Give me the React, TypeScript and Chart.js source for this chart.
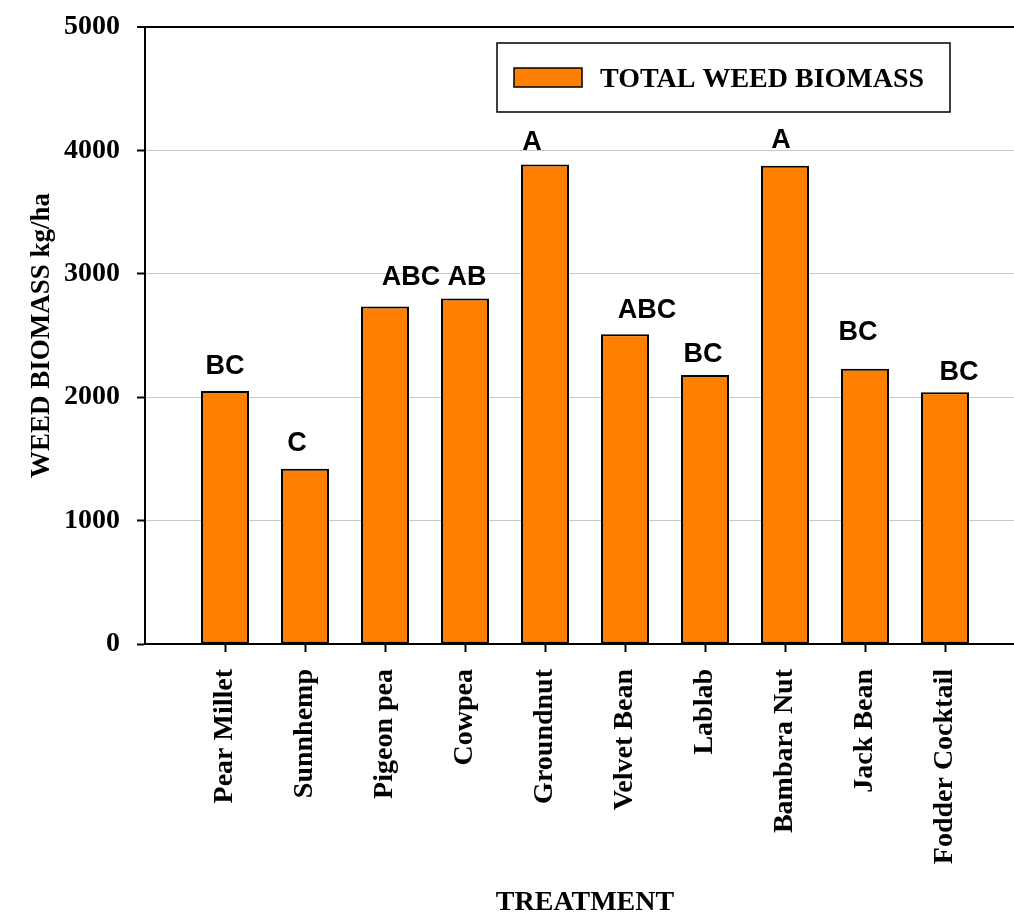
import React, { useEffect, useRef } from "react";
import { Chart, registerables } from "chart.js";

Chart.register(...registerables);

// Treatments along the x axis
const categories = [
  "Pear Millet",
  "Sunnhemp",
  "Pigeon pea",
  "Cowpea",
  "Groundnut",
  "Velvet Bean",
  "Lablab",
  "Bambara Nut",
  "Jack Bean",
  "Fodder Cocktail",
];

// Total weed biomass (kg/ha)
const biomass = [2050, 1420, 2735, 2800, 3885, 2510, 2180, 3875, 2230, 2040];

// Mean separation letters written over each bar
const groupLetters = ["BC", "C", "ABC", "AB", "A", "ABC", "BC", "A", "BC", "BC"];

// Y axis ticks
const yTicks = [0, 1000, 2000, 3000, 4000, 5000];

// Letter placement relative to each bar top: [dx, gap above bar]
const letterOffsets: [number, number][] = [
  [0, 17],
  [-8, 18],
  [26, 22],
  [2, 13],
  [-13, 15],
  [22, 16],
  [-2, 13],
  [-4, 18],
  [-7, 29],
  [14, 12],
];

const ORANGE = "#FF8000";
const SERIF = "'Liberation Serif', 'Times New Roman', serif";
const SANS = "'Liberation Sans', Arial, sans-serif";

// Frame geometry of the plot
const CANVAS_W = 1040;
const CANVAS_H = 920;
const PLOT_LEFT = 145;
const PLOT_TOP = 27;
const PLOT_RIGHT = 1025;
const PLOT_BOTTOM = 644;

const letterPlugin = {
  id: "groupLetters",
  afterDatasetsDraw(chart: any) {
    const meta = chart.getDatasetMeta(0);
    const ctx = chart.ctx;
    ctx.save();
    ctx.font = `bold 27px ${SANS}`;
    ctx.fillStyle = "#000";
    ctx.textAlign = "center";
    ctx.textBaseline = "alphabetic";
    categories.forEach((_, i) => {
      const bar = meta.data[i + 1];
      if (!bar) return;
      const [dx, gap] = letterOffsets[i];
      ctx.fillText(groupLetters[i], bar.x + dx, bar.y - gap);
    });
    ctx.restore();
  },
};

const legendBoxPlugin = {
  id: "legendBox",
  afterDraw(chart: any) {
    const ctx = chart.ctx;
    const ds = chart.data.datasets[0];
    const left = 497;
    const top = 43;
    const w = 453;
    const h = 69;
    ctx.save();
    ctx.fillStyle = "#fff";
    ctx.fillRect(left, top, w, h);
    ctx.strokeStyle = "#000";
    ctx.lineWidth = 1.5;
    ctx.strokeRect(left, top, w, h);
    ctx.fillStyle = ds.backgroundColor;
    ctx.fillRect(left + 17, top + 25, 68, 19);
    ctx.strokeRect(left + 17, top + 25, 68, 19);
    ctx.fillStyle = "#000";
    ctx.font = `bold 28px ${SERIF}`;
    ctx.textAlign = "left";
    ctx.textBaseline = "alphabetic";
    ctx.fillText(ds.label, left + 103, top + 44);
    ctx.restore();
  },
};

export default function App() {
  const canvasRef = useRef<HTMLCanvasElement | null>(null);

  useEffect(() => {
    if (!canvasRef.current) return;
    const labels = ["", ...categories, ""];
    const chart = new Chart(canvasRef.current, {
      type: "bar",
      data: {
        labels,
        datasets: [
          {
            label: "TOTAL WEED BIOMASS",
            data: [null, ...biomass, null],
            backgroundColor: ORANGE,
            borderColor: "#000",
            borderWidth: 2,
            borderSkipped: false,
            barPercentage: 0.6,
            categoryPercentage: 1,
          },
        ],
      },
      options: {
        animation: false,
        responsive: false,
        layout: {
          padding: { top: PLOT_TOP, right: CANVAS_W - PLOT_RIGHT, left: 0, bottom: 0 },
        },
        plugins: {
          legend: { display: false },
          tooltip: { enabled: false },
        },
        scales: {
          x: {
            offset: false,
            afterFit: (scale: any) => {
              scale.height = CANVAS_H - PLOT_BOTTOM;
              scale.paddingLeft = 0;
              scale.paddingRight = 0;
            },
            grid: {
              offset: false,
              drawOnChartArea: false,
              drawTicks: true,
              tickLength: 8,
              tickWidth: 2,
              tickColor: (c: any) =>
                c.index === 0 || c.index === labels.length - 1 ? "rgba(0,0,0,0)" : "#000",
            },
            border: { display: true, color: "#000", width: 2 },
            ticks: {
              autoSkip: false,
              minRotation: 90,
              maxRotation: 90,
              padding: 17,
              color: "#000",
              font: { family: SERIF, size: 28, weight: "bold" },
            },
            title: {
              display: true,
              text: "TREATMENT",
              color: "#000",
              font: { family: SERIF, size: 28, weight: "bold" },
              padding: { top: 0, bottom: 0 },
            },
          },
          y: {
            min: yTicks[0],
            max: yTicks[yTicks.length - 1],
            afterBuildTicks: (scale: any) => {
              scale.ticks = yTicks.map((v) => ({ value: v }));
            },
            afterFit: (scale: any) => {
              scale.width = PLOT_LEFT;
              scale.paddingTop = 0;
              scale.paddingBottom = 0;
            },
            grid: {
              color: (c: any) => (c.tick && c.tick.value === 5000 ? "#000" : "#c8c8c8"),
              lineWidth: (c: any) => (c.tick && c.tick.value === 5000 ? 2 : 1),
              tickColor: "#000",
              tickWidth: 2,
              tickLength: 8,
            },
            border: { display: true, color: "#000", width: 2 },
            ticks: {
              padding: 17,
              color: "#000",
              font: { family: SERIF, size: 28, weight: "bold" },
              callback: (v: any) => String(v),
            },
            title: {
              display: true,
              text: "WEED BIOMASS kg/ha",
              color: "#000",
              font: { family: SERIF, size: 27, weight: "bold" },
              padding: { top: 26, bottom: 0 },
            },
          },
        },
      },
      plugins: [letterPlugin, legendBoxPlugin],
    } as any);
    return () => chart.destroy();
  }, []);

  return (
    <div
      style={{
        position: "fixed",
        left: 0,
        top: 0,
        width: 1014,
        height: 915,
        overflow: "hidden",
        background: "#fff",
      }}
    >
      <canvas
        ref={canvasRef}
        width={CANVAS_W}
        height={CANVAS_H}
        style={{ width: CANVAS_W, height: CANVAS_H, display: "block" }}
      />
    </div>
  );
}
